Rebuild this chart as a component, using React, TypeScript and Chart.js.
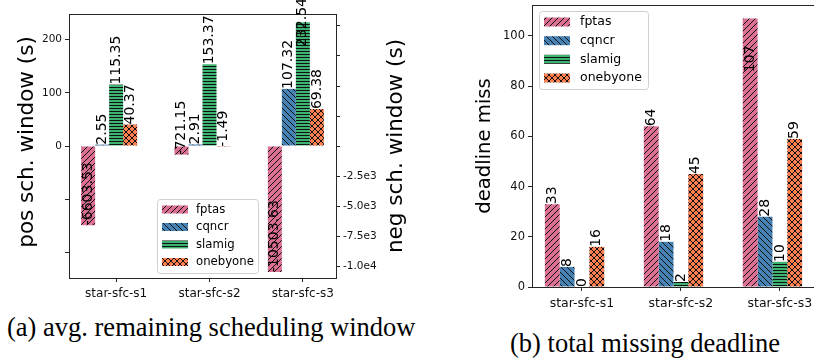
import React, { useEffect, useRef } from 'react';
import { Chart, registerables } from 'chart.js';

Chart.register(...registerables);

const FONT = '"DejaVu Sans", sans-serif';

const categories = ['star-sfc-s1', 'star-sfc-s2', 'star-sfc-s3'];
const seriesNames = ['fptas', 'cqncr', 'slamig', 'onebyone'];
const seriesColors = ['#DB7093', '#4682B4', '#3CB371', '#FF7F50'];
const seriesHatches = ['/', '\\', '-', 'x'];

// (a) avg. remaining scheduling window
const fptasWindow = [-6603.53, -721.15, -10503.63];
const cqncrWindow = [2.55, 2.91, 107.32];
const slamigWindow = [115.35, 153.37, 232.54];
const onebyoneWindow = [40.37, -1.49, 69.38];

// (b) total missing deadline
const fptasMiss = [33, 64, 107];
const cqncrMiss = [8, 18, 28];
const slamigMiss = [0, 2, 10];
const onebyoneMiss = [16, 45, 59];

const posTicks = [-200, -100, 0, 100, 200];
const negTicks = [-10000, -7500, -5000, -2500, 0, 2500, 5000, 7500, 10000];
const missTicks = [0, 20, 40, 60, 80, 100];

function makePattern(color: string, kind: string): CanvasPattern {
  const size = kind === '-' ? 3 : 6;
  const c = document.createElement('canvas');
  c.width = size;
  c.height = size;
  const g = c.getContext('2d')!;
  g.fillStyle = color;
  g.fillRect(0, 0, size, size);
  g.strokeStyle = '#111';
  g.lineWidth = 1;
  g.beginPath();
  if (kind === '/' || kind === 'x') {
    g.moveTo(0, size); g.lineTo(size, 0);
    g.moveTo(-size / 2, size / 2); g.lineTo(size / 2, -size / 2);
    g.moveTo(size / 2, size * 1.5); g.lineTo(size * 1.5, size / 2);
  }
  if (kind === '\\' || kind === 'x') {
    g.moveTo(0, 0); g.lineTo(size, size);
    g.moveTo(-size / 2, size / 2); g.lineTo(size / 2, size * 1.5);
    g.moveTo(size / 2, -size / 2); g.lineTo(size * 1.5, size / 2);
  }
  if (kind === '-') {
    g.moveTo(0, 0.5); g.lineTo(size, 0.5);
  }
  g.stroke();
  return g.createPattern(c, 'repeat')!;
}

function fmtExp(v: number): string {
  const e = Math.floor(Math.log10(Math.abs(v)));
  const m = v / Math.pow(10, e);
  return m.toFixed(1) + 'e' + e;
}

type Decor = {
  fmt: (v: number) => string;
  titles: { text: string; x: number; y: number; size: number }[];
  legend: { x: number; y: number; w: number; h: number; rows: number[]; swX: number; swW: number; swH: number; txX: number; size: number };
};

function decorPlugin(d: Decor, fills: CanvasPattern[]) {
  return {
    id: 'decor',
    afterDraw(chart: any) {
      const { ctx, chartArea: a } = chart;
      ctx.save();
      // frame
      ctx.strokeStyle = '#262626';
      ctx.lineWidth = 1;
      ctx.strokeRect(Math.round(a.left) + 0.5, Math.round(a.top) + 0.5, Math.round(a.right - a.left), Math.round(a.bottom - a.top));
      // value labels
      ctx.font = `14px ${FONT}`;
      ctx.fillStyle = '#000';
      ctx.textAlign = 'left';
      ctx.textBaseline = 'middle';
      chart.data.datasets.forEach((ds: any, di: number) => {
        if (!ds.label) return;
        const meta = chart.getDatasetMeta(di);
        const vs = meta.vScale;
        meta.data.forEach((bar: any, i: number) => {
          const v = ds.data[i].y;
          const t = d.fmt(v);
          const w = ctx.measureText(t).width;
          let y = vs.getPixelForValue(v);
          if (y - w < a.top - 2) y = vs.getPixelForValue(v * 0.8);
          ctx.save();
          ctx.translate(bar.x, y);
          ctx.rotate(-Math.PI / 2);
          ctx.fillText(t, 0, 0);
          ctx.restore();
        });
      });
      // axis titles
      ctx.textAlign = 'center';
      ctx.textBaseline = 'alphabetic';
      d.titles.forEach((t) => {
        ctx.save();
        ctx.font = `${t.size}px ${FONT}`;
        ctx.translate(t.x, t.y);
        ctx.rotate(-Math.PI / 2);
        ctx.fillText(t.text, 0, 0);
        ctx.restore();
      });
      // legend
      const L = d.legend;
      ctx.beginPath();
      if ((ctx as any).roundRect) (ctx as any).roundRect(L.x + 0.5, L.y + 0.5, L.w, L.h, 3);
      else ctx.rect(L.x + 0.5, L.y + 0.5, L.w, L.h);
      ctx.fillStyle = 'rgba(255,255,255,0.85)';
      ctx.fill();
      ctx.strokeStyle = '#d0d0d0';
      ctx.stroke();
      ctx.font = `${L.size}px ${FONT}`;
      ctx.textAlign = 'left';
      ctx.textBaseline = 'middle';
      seriesNames.forEach((n, i) => {
        const cy = L.rows[i];
        ctx.fillStyle = fills[i];
        ctx.fillRect(L.swX, cy - L.swH / 2, L.swW, L.swH);
        ctx.fillStyle = '#000';
        ctx.fillText(n, L.txX, cy);
      });
      ctx.restore();
    },
  };
}

function tickGrid() {
  return { display: true, drawOnChartArea: false, drawTicks: true, tickLength: 4, tickColor: '#262626', offset: false };
}

export default function App() {
  const leftRef = useRef<HTMLCanvasElement>(null);
  const rightRef = useRef<HTMLCanvasElement>(null);

  useEffect(() => {
    const fills = seriesColors.map((c, i) => makePattern(c, seriesHatches[i]));
    const winSeries = [fptasWindow, cqncrWindow, slamigWindow, onebyoneWindow];
    const missSeries = [fptasMiss, cqncrMiss, slamigMiss, onebyoneMiss];

    const mkData = (arr: number[]) => categories.map((_, i) => ({ x: i, y: arr[i] }));
    const barOpts = { categoryPercentage: 0.75, barPercentage: 1, borderWidth: 0 };

    const xScale = (h: number, size: number) => ({
      type: 'linear',
      min: -0.505,
      max: 2.355,
      offset: false,
      afterBuildTicks: (s: any) => { s.ticks = categories.map((_, i) => ({ value: i })); },
      afterFit: (s: any) => { s.height = h; s.paddingLeft = 0; s.paddingRight = 0; },
      ticks: {
        callback: (v: any) => categories[v] ?? '',
        font: { family: FONT, size },
        color: '#111',
        padding: 5,
        maxRotation: 0,
        autoSkip: false,
      },
      grid: tickGrid(),
      border: { display: false },
    });

    const left = new Chart(leftRef.current!, {
      type: 'bar',
      data: {
        datasets: [
          ...seriesNames.map((n, i) => ({
            label: n,
            data: mkData(winSeries[i]),
            backgroundColor: fills[i],
            yAxisID: i === 0 ? 'y2' : 'y',
            ...barOpts,
          })),
          { label: '', data: mkData([0, 0, 0]), backgroundColor: 'rgba(0,0,0,0)', yAxisID: 'y', ...barOpts },
        ],
      } as any,
      options: {
        responsive: false,
        animation: false,
        layout: { padding: { top: 14, left: 0, right: 0, bottom: 0 } },
        plugins: { legend: { display: false }, tooltip: { enabled: false } },
        scales: {
          x: xScale(22, 12) as any,
          y: {
            position: 'left',
            min: -248,
            max: 248,
            afterBuildTicks: (s: any) => { s.ticks = posTicks.map((v) => ({ value: v })); },
            afterFit: (s: any) => { s.width = 69; s.paddingTop = 0; s.paddingBottom = 0; },
            ticks: { callback: (v: any) => (v >= 0 ? String(v) : ''), font: { family: FONT, size: 10.5 }, color: '#111', padding: 3 },
            grid: tickGrid(),
            border: { display: false },
          } as any,
          y2: {
            position: 'right',
            min: -11000,
            max: 11000,
            afterBuildTicks: (s: any) => { s.ticks = negTicks.map((v) => ({ value: v })); },
            afterFit: (s: any) => { s.width = 84; s.paddingTop = 0; s.paddingBottom = 0; },
            ticks: { callback: (v: any) => (v < 0 ? fmtExp(v) : ''), font: { family: FONT, size: 10.5 }, color: '#111', padding: 3 },
            grid: tickGrid(),
            border: { display: false },
          } as any,
        },
      },
      plugins: [
        decorPlugin(
          {
            fmt: (v) => v.toFixed(2),
            titles: [
              { text: 'pos sch. window (s)', x: 32.5, y: 142, size: 21.5 },
              { text: 'neg sch. window (s)', x: 402, y: 146, size: 21.5 },
            ],
            legend: { x: 157, y: 199, w: 101, h: 74, rows: [209.5, 227, 244.5, 262], swX: 162, swW: 26, swH: 8, txX: 196, size: 11.7 },
          },
          fills
        ),
      ],
    });

    const right = new Chart(rightRef.current!, {
      type: 'bar',
      data: {
        datasets: [
          ...seriesNames.map((n, i) => ({
            label: n,
            data: mkData(missSeries[i]),
            backgroundColor: fills[i],
            ...barOpts,
          })),
          { label: '', data: mkData([0, 0, 0]), backgroundColor: 'rgba(0,0,0,0)', ...barOpts },
        ],
      } as any,
      options: {
        responsive: false,
        animation: false,
        layout: { padding: { top: 5, left: 0, right: 5, bottom: 0 } },
        plugins: { legend: { display: false }, tooltip: { enabled: false } },
        scales: {
          x: xScale(28, 12.5) as any,
          y: {
            position: 'left',
            min: 0,
            max: 112.35,
            afterBuildTicks: (s: any) => { s.ticks = missTicks.map((v) => ({ value: v })); },
            afterFit: (s: any) => { s.width = 112; s.paddingTop = 0; s.paddingBottom = 0; },
            ticks: { callback: (v: any) => String(v), font: { family: FONT, size: 11.5 }, color: '#111', padding: 3 },
            grid: tickGrid(),
            border: { display: false },
          } as any,
        },
      },
      plugins: [
        decorPlugin(
          {
            fmt: (v) => String(Math.round(v)),
            titles: [{ text: 'deadline miss', x: 70, y: 146, size: 19.6 }],
            legend: { x: 119, y: 11, w: 109, h: 78, rows: [22, 40.7, 59.3, 78], swX: 124, swW: 26, swH: 9, txX: 160, size: 12.5 },
          },
          fills
        ),
      ],
    });

    return () => {
      left.destroy();
      right.destroy();
    };
  }, []);

  const caption: React.CSSProperties = {
    position: 'absolute',
    fontFamily: '"Liberation Serif", serif',
    fontSize: 26.5,
    lineHeight: '30px',
    whiteSpace: 'nowrap',
    color: '#000',
  };

  return (
    <div style={{ position: 'fixed', left: 0, top: 0, width: 814, height: 363, overflow: 'hidden', background: '#fff' }}>
      <canvas ref={leftRef} width={420} height={300} style={{ position: 'absolute', left: 0, top: 0 }} />
      <canvas ref={rightRef} width={400} height={315} style={{ position: 'absolute', left: 420, top: 0 }} />
      <div style={{ ...caption, left: 7, top: 312 }}>(a) avg. remaining scheduling window</div>
      <div style={{ ...caption, left: 510, top: 328 }}>(b) total missing deadline</div>
    </div>
  );
}
